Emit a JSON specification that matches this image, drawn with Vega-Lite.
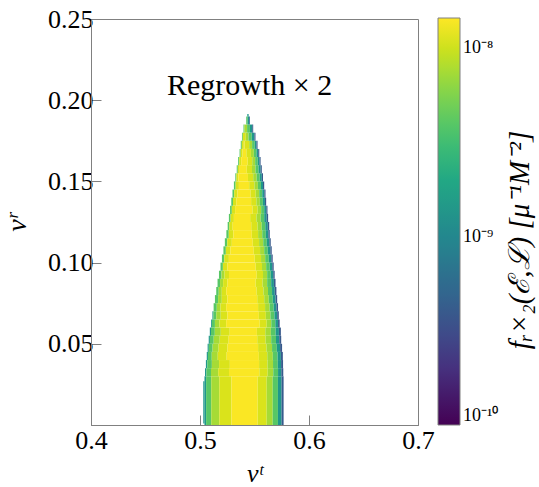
{
  "$schema": "https://vega.github.io/schema/vega-lite/v6.json",
  "width": 327,
  "height": 406,
  "autosize": "none",
  "padding": {"left": 91, "top": 19, "right": 121, "bottom": 62},
  "background": "white",
  "config": {
    "view": {"stroke": "#808080", "strokeWidth": 1},
    "font": "Liberation Serif",
    "axis": {"grid": false, "domainColor": "#808080", "tickColor": "#808080", "labelColor": "#000000", "titleColor": "#000000", "labelFont": "Liberation Serif", "titleFont": "Liberation Serif"}
  },
  "layer": [
    {
      "data": {"values": [
        {"x":0.5030,"x2":0.5041,"y":0.001,"y2":0.027,"f":1.4e-9},
        {"x":0.5041,"x2":0.5056,"y":0,"y2":0.03,"f":1.4e-9},
        {"x":0.5056,"x2":0.5103,"y":0,"y2":0.03,"f":4e-9},
        {"x":0.5103,"x2":0.5177,"y":0,"y2":0.03,"f":7.5e-9},
        {"x":0.5177,"x2":0.5289,"y":0,"y2":0.03,"f":1.1e-8},
        {"x":0.5289,"x2":0.5529,"y":0,"y2":0.03,"f":1.42e-8},
        {"x":0.5529,"x2":0.5612,"y":0,"y2":0.03,"f":1.1e-8},
        {"x":0.5612,"x2":0.5667,"y":0,"y2":0.03,"f":7.5e-9},
        {"x":0.5667,"x2":0.5715,"y":0,"y2":0.03,"f":4e-9},
        {"x":0.5715,"x2":0.5748,"y":0,"y2":0.03,"f":1.4e-9},
        {"x":0.5748,"x2":0.5767,"y":0,"y2":0.03,"f":4e-10},

        {"x":0.5046,"x2":0.5059,"y":0.030,"y2":0.035,"f":1.4e-9},
        {"x":0.5059,"x2":0.5101,"y":0.030,"y2":0.035,"f":4e-9},
        {"x":0.5101,"x2":0.5167,"y":0.030,"y2":0.035,"f":7.5e-9},
        {"x":0.5167,"x2":0.5266,"y":0.030,"y2":0.035,"f":1.1e-8},
        {"x":0.5266,"x2":0.5544,"y":0.030,"y2":0.035,"f":1.42e-8},
        {"x":0.5544,"x2":0.5621,"y":0.030,"y2":0.035,"f":1.1e-8},
        {"x":0.5621,"x2":0.5672,"y":0.030,"y2":0.035,"f":7.5e-9},
        {"x":0.5672,"x2":0.5716,"y":0.030,"y2":0.035,"f":4e-9},
        {"x":0.5716,"x2":0.5746,"y":0.030,"y2":0.035,"f":1.4e-9},
        {"x":0.5746,"x2":0.5764,"y":0.030,"y2":0.035,"f":4e-10},

        {"x":0.5054,"x2":0.5067,"y":0.035,"y2":0.040,"f":1.4e-9},
        {"x":0.5067,"x2":0.5109,"y":0.035,"y2":0.040,"f":4e-9},
        {"x":0.5109,"x2":0.5175,"y":0.035,"y2":0.040,"f":7.5e-9},
        {"x":0.5175,"x2":0.5274,"y":0.035,"y2":0.040,"f":1.1e-8},
        {"x":0.5274,"x2":0.5542,"y":0.035,"y2":0.040,"f":1.42e-8},
        {"x":0.5542,"x2":0.5619,"y":0.035,"y2":0.040,"f":1.1e-8},
        {"x":0.5619,"x2":0.5670,"y":0.035,"y2":0.040,"f":7.5e-9},
        {"x":0.5670,"x2":0.5714,"y":0.035,"y2":0.040,"f":4e-9},
        {"x":0.5714,"x2":0.5744,"y":0.035,"y2":0.040,"f":1.4e-9},
        {"x":0.5744,"x2":0.5762,"y":0.035,"y2":0.040,"f":4e-10},

        {"x":0.5062,"x2":0.5073,"y":0.040,"y2":0.045,"f":1.4e-9},
        {"x":0.5073,"x2":0.5108,"y":0.040,"y2":0.045,"f":4e-9},
        {"x":0.5108,"x2":0.5163,"y":0.040,"y2":0.045,"f":7.5e-9},
        {"x":0.5163,"x2":0.5245,"y":0.040,"y2":0.045,"f":1.1e-8},
        {"x":0.5245,"x2":0.5540,"y":0.040,"y2":0.045,"f":1.42e-8},
        {"x":0.5540,"x2":0.5617,"y":0.040,"y2":0.045,"f":1.1e-8},
        {"x":0.5617,"x2":0.5668,"y":0.040,"y2":0.045,"f":7.5e-9},
        {"x":0.5668,"x2":0.5712,"y":0.040,"y2":0.045,"f":4e-9},
        {"x":0.5712,"x2":0.5742,"y":0.040,"y2":0.045,"f":1.4e-9},
        {"x":0.5742,"x2":0.5760,"y":0.040,"y2":0.045,"f":4e-10},

        {"x":0.5070,"x2":0.5081,"y":0.045,"y2":0.050,"f":1.4e-9},
        {"x":0.5081,"x2":0.5116,"y":0.045,"y2":0.050,"f":4e-9},
        {"x":0.5116,"x2":0.5171,"y":0.045,"y2":0.050,"f":7.5e-9},
        {"x":0.5171,"x2":0.5253,"y":0.045,"y2":0.050,"f":1.1e-8},
        {"x":0.5253,"x2":0.5533,"y":0.045,"y2":0.050,"f":1.42e-8},
        {"x":0.5533,"x2":0.5610,"y":0.045,"y2":0.050,"f":1.1e-8},
        {"x":0.5610,"x2":0.5661,"y":0.045,"y2":0.050,"f":7.5e-9},
        {"x":0.5661,"x2":0.5705,"y":0.045,"y2":0.050,"f":4e-9},
        {"x":0.5705,"x2":0.5735,"y":0.045,"y2":0.050,"f":1.4e-9},
        {"x":0.5735,"x2":0.5753,"y":0.045,"y2":0.050,"f":4e-10},

        {"x":0.5080,"x2":0.5091,"y":0.050,"y2":0.055,"f":1.4e-9},
        {"x":0.5091,"x2":0.5126,"y":0.050,"y2":0.055,"f":4e-9},
        {"x":0.5126,"x2":0.5181,"y":0.050,"y2":0.055,"f":7.5e-9},
        {"x":0.5181,"x2":0.5263,"y":0.050,"y2":0.055,"f":1.1e-8},
        {"x":0.5263,"x2":0.5525,"y":0.050,"y2":0.055,"f":1.42e-8},
        {"x":0.5525,"x2":0.5602,"y":0.050,"y2":0.055,"f":1.1e-8},
        {"x":0.5602,"x2":0.5653,"y":0.050,"y2":0.055,"f":7.5e-9},
        {"x":0.5653,"x2":0.5697,"y":0.050,"y2":0.055,"f":4e-9},
        {"x":0.5697,"x2":0.5727,"y":0.050,"y2":0.055,"f":1.4e-9},
        {"x":0.5727,"x2":0.5745,"y":0.050,"y2":0.055,"f":4e-10},

        {"x":0.5090,"x2":0.5101,"y":0.055,"y2":0.060,"f":1.4e-9},
        {"x":0.5101,"x2":0.5136,"y":0.055,"y2":0.060,"f":4e-9},
        {"x":0.5136,"x2":0.5191,"y":0.055,"y2":0.060,"f":7.5e-9},
        {"x":0.5191,"x2":0.5273,"y":0.055,"y2":0.060,"f":1.1e-8},
        {"x":0.5273,"x2":0.5522,"y":0.055,"y2":0.060,"f":1.42e-8},
        {"x":0.5522,"x2":0.5599,"y":0.055,"y2":0.060,"f":1.1e-8},
        {"x":0.5599,"x2":0.5650,"y":0.055,"y2":0.060,"f":7.5e-9},
        {"x":0.5650,"x2":0.5694,"y":0.055,"y2":0.060,"f":4e-9},
        {"x":0.5694,"x2":0.5724,"y":0.055,"y2":0.060,"f":1.4e-9},
        {"x":0.5724,"x2":0.5742,"y":0.055,"y2":0.060,"f":4e-10},

        {"x":0.5102,"x2":0.5110,"y":0.060,"y2":0.065,"f":1.4e-9},
        {"x":0.5110,"x2":0.5137,"y":0.060,"y2":0.065,"f":4e-9},
        {"x":0.5137,"x2":0.5178,"y":0.060,"y2":0.065,"f":7.5e-9},
        {"x":0.5178,"x2":0.5240,"y":0.060,"y2":0.065,"f":1.1e-8},
        {"x":0.5240,"x2":0.5548,"y":0.060,"y2":0.065,"f":1.42e-8},
        {"x":0.5548,"x2":0.5612,"y":0.060,"y2":0.065,"f":1.1e-8},
        {"x":0.5612,"x2":0.5654,"y":0.060,"y2":0.065,"f":7.5e-9},
        {"x":0.5654,"x2":0.5691,"y":0.060,"y2":0.065,"f":4e-9},
        {"x":0.5691,"x2":0.5716,"y":0.060,"y2":0.065,"f":1.4e-9},
        {"x":0.5716,"x2":0.5731,"y":0.060,"y2":0.065,"f":4e-10},

        {"x":0.5114,"x2":0.5122,"y":0.065,"y2":0.070,"f":1.4e-9},
        {"x":0.5122,"x2":0.5149,"y":0.065,"y2":0.070,"f":4e-9},
        {"x":0.5149,"x2":0.5190,"y":0.065,"y2":0.070,"f":7.5e-9},
        {"x":0.5190,"x2":0.5252,"y":0.065,"y2":0.070,"f":1.1e-8},
        {"x":0.5252,"x2":0.5540,"y":0.065,"y2":0.070,"f":1.42e-8},
        {"x":0.5540,"x2":0.5604,"y":0.065,"y2":0.070,"f":1.1e-8},
        {"x":0.5604,"x2":0.5646,"y":0.065,"y2":0.070,"f":7.5e-9},
        {"x":0.5646,"x2":0.5683,"y":0.065,"y2":0.070,"f":4e-9},
        {"x":0.5683,"x2":0.5708,"y":0.065,"y2":0.070,"f":1.4e-9},
        {"x":0.5708,"x2":0.5723,"y":0.065,"y2":0.070,"f":4e-10},

        {"x":0.5125,"x2":0.5154,"y":0.070,"y2":0.075,"f":4e-9},
        {"x":0.5154,"x2":0.5188,"y":0.070,"y2":0.075,"f":7.5e-9},
        {"x":0.5188,"x2":0.5240,"y":0.070,"y2":0.075,"f":1.1e-8},
        {"x":0.5240,"x2":0.5533,"y":0.070,"y2":0.075,"f":1.42e-8},
        {"x":0.5533,"x2":0.5597,"y":0.070,"y2":0.075,"f":1.1e-8},
        {"x":0.5597,"x2":0.5639,"y":0.070,"y2":0.075,"f":7.5e-9},
        {"x":0.5639,"x2":0.5676,"y":0.070,"y2":0.075,"f":4e-9},
        {"x":0.5676,"x2":0.5701,"y":0.070,"y2":0.075,"f":1.4e-9},
        {"x":0.5701,"x2":0.5716,"y":0.070,"y2":0.075,"f":4e-10},

        {"x":0.5137,"x2":0.5166,"y":0.075,"y2":0.080,"f":4e-9},
        {"x":0.5166,"x2":0.5200,"y":0.075,"y2":0.080,"f":7.5e-9},
        {"x":0.5200,"x2":0.5252,"y":0.075,"y2":0.080,"f":1.1e-8},
        {"x":0.5252,"x2":0.5525,"y":0.075,"y2":0.080,"f":1.42e-8},
        {"x":0.5525,"x2":0.5589,"y":0.075,"y2":0.080,"f":1.1e-8},
        {"x":0.5589,"x2":0.5631,"y":0.075,"y2":0.080,"f":7.5e-9},
        {"x":0.5631,"x2":0.5668,"y":0.075,"y2":0.080,"f":4e-9},
        {"x":0.5668,"x2":0.5693,"y":0.075,"y2":0.080,"f":1.4e-9},
        {"x":0.5693,"x2":0.5708,"y":0.075,"y2":0.080,"f":4e-10},

        {"x":0.5149,"x2":0.5172,"y":0.080,"y2":0.085,"f":4e-9},
        {"x":0.5172,"x2":0.5200,"y":0.080,"y2":0.085,"f":7.5e-9},
        {"x":0.5200,"x2":0.5241,"y":0.080,"y2":0.085,"f":1.1e-8},
        {"x":0.5241,"x2":0.5518,"y":0.080,"y2":0.085,"f":1.42e-8},
        {"x":0.5518,"x2":0.5582,"y":0.080,"y2":0.085,"f":1.1e-8},
        {"x":0.5582,"x2":0.5624,"y":0.080,"y2":0.085,"f":7.5e-9},
        {"x":0.5624,"x2":0.5661,"y":0.080,"y2":0.085,"f":4e-9},
        {"x":0.5661,"x2":0.5686,"y":0.080,"y2":0.085,"f":1.4e-9},
        {"x":0.5686,"x2":0.5701,"y":0.080,"y2":0.085,"f":4e-10},

        {"x":0.5161,"x2":0.5184,"y":0.085,"y2":0.090,"f":4e-9},
        {"x":0.5184,"x2":0.5212,"y":0.085,"y2":0.090,"f":7.5e-9},
        {"x":0.5212,"x2":0.5253,"y":0.085,"y2":0.090,"f":1.1e-8},
        {"x":0.5253,"x2":0.5510,"y":0.085,"y2":0.090,"f":1.42e-8},
        {"x":0.5510,"x2":0.5574,"y":0.085,"y2":0.090,"f":1.1e-8},
        {"x":0.5574,"x2":0.5616,"y":0.085,"y2":0.090,"f":7.5e-9},
        {"x":0.5616,"x2":0.5653,"y":0.085,"y2":0.090,"f":4e-9},
        {"x":0.5653,"x2":0.5678,"y":0.085,"y2":0.090,"f":1.4e-9},
        {"x":0.5678,"x2":0.5693,"y":0.085,"y2":0.090,"f":4e-10},

        {"x":0.5174,"x2":0.5197,"y":0.090,"y2":0.095,"f":4e-9},
        {"x":0.5197,"x2":0.5225,"y":0.090,"y2":0.095,"f":7.5e-9},
        {"x":0.5225,"x2":0.5266,"y":0.090,"y2":0.095,"f":1.1e-8},
        {"x":0.5266,"x2":0.5520,"y":0.090,"y2":0.095,"f":1.42e-8},
        {"x":0.5520,"x2":0.5578,"y":0.090,"y2":0.095,"f":1.1e-8},
        {"x":0.5578,"x2":0.5616,"y":0.090,"y2":0.095,"f":7.5e-9},
        {"x":0.5616,"x2":0.5649,"y":0.090,"y2":0.095,"f":4e-9},
        {"x":0.5649,"x2":0.5672,"y":0.090,"y2":0.095,"f":1.4e-9},
        {"x":0.5672,"x2":0.5685,"y":0.090,"y2":0.095,"f":4e-10},

        {"x":0.5188,"x2":0.5210,"y":0.095,"y2":0.100,"f":4e-9},
        {"x":0.5210,"x2":0.5252,"y":0.095,"y2":0.100,"f":1.1e-8},
        {"x":0.5252,"x2":0.5511,"y":0.095,"y2":0.100,"f":1.42e-8},
        {"x":0.5511,"x2":0.5569,"y":0.095,"y2":0.100,"f":1.1e-8},
        {"x":0.5569,"x2":0.5607,"y":0.095,"y2":0.100,"f":7.5e-9},
        {"x":0.5607,"x2":0.5640,"y":0.095,"y2":0.100,"f":4e-9},
        {"x":0.5640,"x2":0.5663,"y":0.095,"y2":0.100,"f":1.4e-9},
        {"x":0.5663,"x2":0.5676,"y":0.095,"y2":0.100,"f":4e-10},

        {"x":0.5201,"x2":0.5223,"y":0.100,"y2":0.105,"f":4e-9},
        {"x":0.5223,"x2":0.5265,"y":0.100,"y2":0.105,"f":1.1e-8},
        {"x":0.5265,"x2":0.5502,"y":0.100,"y2":0.105,"f":1.42e-8},
        {"x":0.5502,"x2":0.5560,"y":0.100,"y2":0.105,"f":1.1e-8},
        {"x":0.5560,"x2":0.5598,"y":0.100,"y2":0.105,"f":7.5e-9},
        {"x":0.5598,"x2":0.5631,"y":0.100,"y2":0.105,"f":4e-9},
        {"x":0.5631,"x2":0.5654,"y":0.100,"y2":0.105,"f":1.4e-9},
        {"x":0.5654,"x2":0.5667,"y":0.100,"y2":0.105,"f":4e-10},

        {"x":0.5215,"x2":0.5237,"y":0.105,"y2":0.110,"f":4e-9},
        {"x":0.5237,"x2":0.5279,"y":0.105,"y2":0.110,"f":1.1e-8},
        {"x":0.5279,"x2":0.5493,"y":0.105,"y2":0.110,"f":1.42e-8},
        {"x":0.5493,"x2":0.5551,"y":0.105,"y2":0.110,"f":1.1e-8},
        {"x":0.5551,"x2":0.5589,"y":0.105,"y2":0.110,"f":7.5e-9},
        {"x":0.5589,"x2":0.5622,"y":0.105,"y2":0.110,"f":4e-9},
        {"x":0.5622,"x2":0.5645,"y":0.105,"y2":0.110,"f":1.4e-9},
        {"x":0.5645,"x2":0.5658,"y":0.105,"y2":0.110,"f":4e-10},

        {"x":0.5228,"x2":0.5250,"y":0.110,"y2":0.115,"f":4e-9},
        {"x":0.5250,"x2":0.5292,"y":0.110,"y2":0.115,"f":1.1e-8},
        {"x":0.5292,"x2":0.5484,"y":0.110,"y2":0.115,"f":1.42e-8},
        {"x":0.5484,"x2":0.5542,"y":0.110,"y2":0.115,"f":1.1e-8},
        {"x":0.5542,"x2":0.5580,"y":0.110,"y2":0.115,"f":7.5e-9},
        {"x":0.5580,"x2":0.5613,"y":0.110,"y2":0.115,"f":4e-9},
        {"x":0.5613,"x2":0.5636,"y":0.110,"y2":0.115,"f":1.4e-9},
        {"x":0.5636,"x2":0.5649,"y":0.110,"y2":0.115,"f":4e-10},

        {"x":0.5242,"x2":0.5264,"y":0.115,"y2":0.120,"f":4e-9},
        {"x":0.5264,"x2":0.5306,"y":0.115,"y2":0.120,"f":1.1e-8},
        {"x":0.5306,"x2":0.5475,"y":0.115,"y2":0.120,"f":1.42e-8},
        {"x":0.5475,"x2":0.5533,"y":0.115,"y2":0.120,"f":1.1e-8},
        {"x":0.5533,"x2":0.5571,"y":0.115,"y2":0.120,"f":7.5e-9},
        {"x":0.5571,"x2":0.5604,"y":0.115,"y2":0.120,"f":4e-9},
        {"x":0.5604,"x2":0.5627,"y":0.115,"y2":0.120,"f":1.4e-9},
        {"x":0.5627,"x2":0.5640,"y":0.115,"y2":0.120,"f":4e-10},

        {"x":0.5254,"x2":0.5270,"y":0.120,"y2":0.125,"f":4e-9},
        {"x":0.5270,"x2":0.5300,"y":0.120,"y2":0.125,"f":1.1e-8},
        {"x":0.5300,"x2":0.5470,"y":0.120,"y2":0.125,"f":1.42e-8},
        {"x":0.5470,"x2":0.5528,"y":0.120,"y2":0.125,"f":1.1e-8},
        {"x":0.5528,"x2":0.5566,"y":0.120,"y2":0.125,"f":7.5e-9},
        {"x":0.5566,"x2":0.5599,"y":0.120,"y2":0.125,"f":4e-9},
        {"x":0.5599,"x2":0.5622,"y":0.120,"y2":0.125,"f":1.4e-9},
        {"x":0.5622,"x2":0.5635,"y":0.120,"y2":0.125,"f":4e-10},

        {"x":0.5265,"x2":0.5281,"y":0.125,"y2":0.130,"f":4e-9},
        {"x":0.5281,"x2":0.5311,"y":0.125,"y2":0.130,"f":1.1e-8},
        {"x":0.5311,"x2":0.5460,"y":0.125,"y2":0.130,"f":1.42e-8},
        {"x":0.5460,"x2":0.5518,"y":0.125,"y2":0.130,"f":1.1e-8},
        {"x":0.5518,"x2":0.5556,"y":0.125,"y2":0.130,"f":7.5e-9},
        {"x":0.5556,"x2":0.5589,"y":0.125,"y2":0.130,"f":4e-9},
        {"x":0.5589,"x2":0.5612,"y":0.125,"y2":0.130,"f":1.4e-9},
        {"x":0.5612,"x2":0.5625,"y":0.125,"y2":0.130,"f":4e-10},

        {"x":0.5276,"x2":0.5292,"y":0.130,"y2":0.135,"f":4e-9},
        {"x":0.5292,"x2":0.5322,"y":0.130,"y2":0.135,"f":1.1e-8},
        {"x":0.5322,"x2":0.5481,"y":0.130,"y2":0.135,"f":1.42e-8},
        {"x":0.5481,"x2":0.5529,"y":0.130,"y2":0.135,"f":1.1e-8},
        {"x":0.5529,"x2":0.5561,"y":0.130,"y2":0.135,"f":7.5e-9},
        {"x":0.5561,"x2":0.5589,"y":0.130,"y2":0.135,"f":4e-9},
        {"x":0.5589,"x2":0.5608,"y":0.130,"y2":0.135,"f":1.4e-9},
        {"x":0.5608,"x2":0.5619,"y":0.130,"y2":0.135,"f":4e-10},

        {"x":0.5287,"x2":0.5303,"y":0.135,"y2":0.140,"f":4e-9},
        {"x":0.5303,"x2":0.5333,"y":0.135,"y2":0.140,"f":1.1e-8},
        {"x":0.5333,"x2":0.5469,"y":0.135,"y2":0.140,"f":1.42e-8},
        {"x":0.5469,"x2":0.5517,"y":0.135,"y2":0.140,"f":1.1e-8},
        {"x":0.5517,"x2":0.5549,"y":0.135,"y2":0.140,"f":7.5e-9},
        {"x":0.5549,"x2":0.5577,"y":0.135,"y2":0.140,"f":4e-9},
        {"x":0.5577,"x2":0.5596,"y":0.135,"y2":0.140,"f":1.4e-9},
        {"x":0.5596,"x2":0.5607,"y":0.135,"y2":0.140,"f":4e-10},

        {"x":0.5298,"x2":0.5314,"y":0.140,"y2":0.145,"f":4e-9},
        {"x":0.5314,"x2":0.5344,"y":0.140,"y2":0.145,"f":1.1e-8},
        {"x":0.5344,"x2":0.5463,"y":0.140,"y2":0.145,"f":1.42e-8},
        {"x":0.5463,"x2":0.5511,"y":0.140,"y2":0.145,"f":1.1e-8},
        {"x":0.5511,"x2":0.5543,"y":0.140,"y2":0.145,"f":7.5e-9},
        {"x":0.5543,"x2":0.5571,"y":0.140,"y2":0.145,"f":4e-9},
        {"x":0.5571,"x2":0.5590,"y":0.140,"y2":0.145,"f":1.4e-9},
        {"x":0.5590,"x2":0.5601,"y":0.140,"y2":0.145,"f":4e-10},

        {"x":0.5311,"x2":0.5327,"y":0.145,"y2":0.150,"f":4e-9},
        {"x":0.5327,"x2":0.5357,"y":0.145,"y2":0.150,"f":1.1e-8},
        {"x":0.5357,"x2":0.5451,"y":0.145,"y2":0.150,"f":1.42e-8},
        {"x":0.5451,"x2":0.5499,"y":0.145,"y2":0.150,"f":1.1e-8},
        {"x":0.5499,"x2":0.5531,"y":0.145,"y2":0.150,"f":7.5e-9},
        {"x":0.5531,"x2":0.5559,"y":0.145,"y2":0.150,"f":4e-9},
        {"x":0.5559,"x2":0.5578,"y":0.145,"y2":0.150,"f":1.4e-9},
        {"x":0.5578,"x2":0.5589,"y":0.145,"y2":0.150,"f":4e-10},

        {"x":0.5324,"x2":0.5334,"y":0.150,"y2":0.155,"f":4e-9},
        {"x":0.5334,"x2":0.5352,"y":0.150,"y2":0.155,"f":1.1e-8},
        {"x":0.5352,"x2":0.5440,"y":0.150,"y2":0.155,"f":1.42e-8},
        {"x":0.5440,"x2":0.5488,"y":0.150,"y2":0.155,"f":1.1e-8},
        {"x":0.5488,"x2":0.5520,"y":0.150,"y2":0.155,"f":7.5e-9},
        {"x":0.5520,"x2":0.5548,"y":0.150,"y2":0.155,"f":4e-9},
        {"x":0.5548,"x2":0.5567,"y":0.150,"y2":0.155,"f":1.4e-9},
        {"x":0.5567,"x2":0.5578,"y":0.150,"y2":0.155,"f":4e-10},

        {"x":0.5337,"x2":0.5347,"y":0.155,"y2":0.160,"f":4e-9},
        {"x":0.5347,"x2":0.5365,"y":0.155,"y2":0.160,"f":1.1e-8},
        {"x":0.5365,"x2":0.5429,"y":0.155,"y2":0.160,"f":1.42e-8},
        {"x":0.5429,"x2":0.5477,"y":0.155,"y2":0.160,"f":1.1e-8},
        {"x":0.5477,"x2":0.5509,"y":0.155,"y2":0.160,"f":7.5e-9},
        {"x":0.5509,"x2":0.5537,"y":0.155,"y2":0.160,"f":4e-9},
        {"x":0.5537,"x2":0.5556,"y":0.155,"y2":0.160,"f":1.4e-9},
        {"x":0.5556,"x2":0.5567,"y":0.155,"y2":0.160,"f":4e-10},

        {"x":0.5350,"x2":0.5360,"y":0.160,"y2":0.165,"f":4e-9},
        {"x":0.5360,"x2":0.5378,"y":0.160,"y2":0.165,"f":1.1e-8},
        {"x":0.5378,"x2":0.5437,"y":0.160,"y2":0.165,"f":1.42e-8},
        {"x":0.5437,"x2":0.5479,"y":0.160,"y2":0.165,"f":1.1e-8},
        {"x":0.5479,"x2":0.5506,"y":0.160,"y2":0.165,"f":7.5e-9},
        {"x":0.5506,"x2":0.5530,"y":0.160,"y2":0.165,"f":4e-9},
        {"x":0.5530,"x2":0.5546,"y":0.160,"y2":0.165,"f":1.4e-9},
        {"x":0.5546,"x2":0.5556,"y":0.160,"y2":0.165,"f":4e-10},

        {"x":0.5363,"x2":0.5373,"y":0.165,"y2":0.170,"f":4e-9},
        {"x":0.5373,"x2":0.5391,"y":0.165,"y2":0.170,"f":1.1e-8},
        {"x":0.5391,"x2":0.5425,"y":0.165,"y2":0.170,"f":1.42e-8},
        {"x":0.5425,"x2":0.5467,"y":0.165,"y2":0.170,"f":1.1e-8},
        {"x":0.5467,"x2":0.5494,"y":0.165,"y2":0.170,"f":7.5e-9},
        {"x":0.5494,"x2":0.5518,"y":0.165,"y2":0.170,"f":4e-9},
        {"x":0.5518,"x2":0.5534,"y":0.165,"y2":0.170,"f":1.4e-9},
        {"x":0.5534,"x2":0.5544,"y":0.165,"y2":0.170,"f":4e-10},

        {"x":0.5374,"x2":0.5384,"y":0.170,"y2":0.175,"f":4e-9},
        {"x":0.5384,"x2":0.5402,"y":0.170,"y2":0.175,"f":1.1e-8},
        {"x":0.5402,"x2":0.5409,"y":0.170,"y2":0.175,"f":1.42e-8},
        {"x":0.5409,"x2":0.5451,"y":0.170,"y2":0.175,"f":1.1e-8},
        {"x":0.5451,"x2":0.5478,"y":0.170,"y2":0.175,"f":7.5e-9},
        {"x":0.5478,"x2":0.5502,"y":0.170,"y2":0.175,"f":4e-9},
        {"x":0.5502,"x2":0.5518,"y":0.170,"y2":0.175,"f":1.4e-9},
        {"x":0.5518,"x2":0.5528,"y":0.170,"y2":0.175,"f":4e-10},

        {"x":0.5385,"x2":0.5393,"y":0.175,"y2":0.180,"f":4e-9},
        {"x":0.5393,"x2":0.5420,"y":0.175,"y2":0.180,"f":1.1e-8},
        {"x":0.5420,"x2":0.5445,"y":0.175,"y2":0.180,"f":7.5e-9},
        {"x":0.5445,"x2":0.5475,"y":0.175,"y2":0.180,"f":4e-9},
        {"x":0.5475,"x2":0.5499,"y":0.175,"y2":0.180,"f":1.4e-9},
        {"x":0.5499,"x2":0.5509,"y":0.175,"y2":0.180,"f":4e-10},

        {"x":0.5399,"x2":0.5407,"y":0.180,"y2":0.185,"f":4e-9},
        {"x":0.5407,"x2":0.5432,"y":0.180,"y2":0.185,"f":7.5e-9},
        {"x":0.5432,"x2":0.5458,"y":0.180,"y2":0.185,"f":4e-9},
        {"x":0.5458,"x2":0.5479,"y":0.180,"y2":0.185,"f":1.4e-9},
        {"x":0.5479,"x2":0.5488,"y":0.180,"y2":0.185,"f":4e-10},

        {"x":0.5424,"x2":0.5438,"y":0.185,"y2":0.190,"f":4e-9},
        {"x":0.5438,"x2":0.5451,"y":0.185,"y2":0.190,"f":1.4e-9},
        {"x":0.5451,"x2":0.5458,"y":0.185,"y2":0.190,"f":4e-10},

        {"x":0.5434,"x2":0.5446,"y":0.190,"y2":0.1915,"f":1.4e-9}
      ]},
      "mark": {"type": "rect"},
      "encoding": {
        "x": {
          "field": "x", "type": "quantitative",
          "scale": {"domain": [0.4, 0.7], "nice": false, "zero": false},
          "axis": {
            "values": [0.4, 0.5, 0.6, 0.7], "format": ".1f",
            "title": "vᵗ", "titleFontStyle": "italic", "titleFontWeight": "normal", "titleFontSize": 26,
            "titlePadding": 7,
            "labelFontSize": 26, "labelPadding": 12,
            "tickSize": -10, "tickWidth": 1, "domainWidth": 1,
            "labelFlush": false
          }
        },
        "x2": {"field": "x2"},
        "y": {
          "field": "y", "type": "quantitative",
          "scale": {"domain": [0, 0.25], "nice": false, "zero": false},
          "axis": {
            "values": [0.05, 0.10, 0.15, 0.20, 0.25], "format": ".2f",
            "title": "vʳ", "titleFontStyle": "italic", "titleFontWeight": "normal", "titleFontSize": 28,
            "titlePadding": 16,
            "labelFontSize": 26, "labelPadding": 8,
            "tickSize": -10, "tickWidth": 1, "domainWidth": 1,
            "labelFlush": false
          }
        },
        "y2": {"field": "y2"},
        "color": {
          "field": "f", "type": "quantitative",
          "scale": {"type": "log", "domain": [1e-10, 1.45e-8], "scheme": "viridis"},
          "legend": {
            "type": "gradient",
            "orient": "none", "legendX": 347, "legendY": -1,
            "direction": "vertical",
            "gradientLength": 407, "gradientThickness": 22,
            "gradientStrokeColor": "#808080", "gradientStrokeWidth": 1,
            "values": [1e-10, 1e-9, 1e-8],
            "labelExpr": "datum.value < 3e-10 ? '10⁻¹⁰' : (datum.value < 3e-9 ? '10⁻⁹' : '10⁻⁸')",
            "labelFont": "Liberation Serif", "labelFontSize": 18, "labelOffset": 3, "labelOverlap": false, "labelColor": "#000000",
            "title": "fᵣ×₂(ℰ,ℒ) [μ⁻¹M⁻²]",
            "titleOrient": "right", "titleAnchor": "middle", "titleLimit": 400,
            "titleFont": "Liberation Serif", "titleFontSize": 29, "titleFontStyle": "italic", "titleFontWeight": "normal",
            "titlePadding": 22, "titleColor": "#000000", "titleBaseline": "middle",
            "encode": {"title": {"update": {"angle": {"value": 270}, "dx": {"value": -18}}}}
          }
        }
      }
    },
    {
      "data": {"values": [{"vt": 0.5455, "vr": 0.2085, "label": "Regrowth × 2"}]},
      "mark": {"type": "text", "font": "Liberation Serif", "fontSize": 30, "align": "center", "baseline": "middle", "color": "#000000"},
      "encoding": {
        "x": {"field": "vt", "type": "quantitative"},
        "y": {"field": "vr", "type": "quantitative"},
        "text": {"field": "label"}
      }
    }
  ]
}
